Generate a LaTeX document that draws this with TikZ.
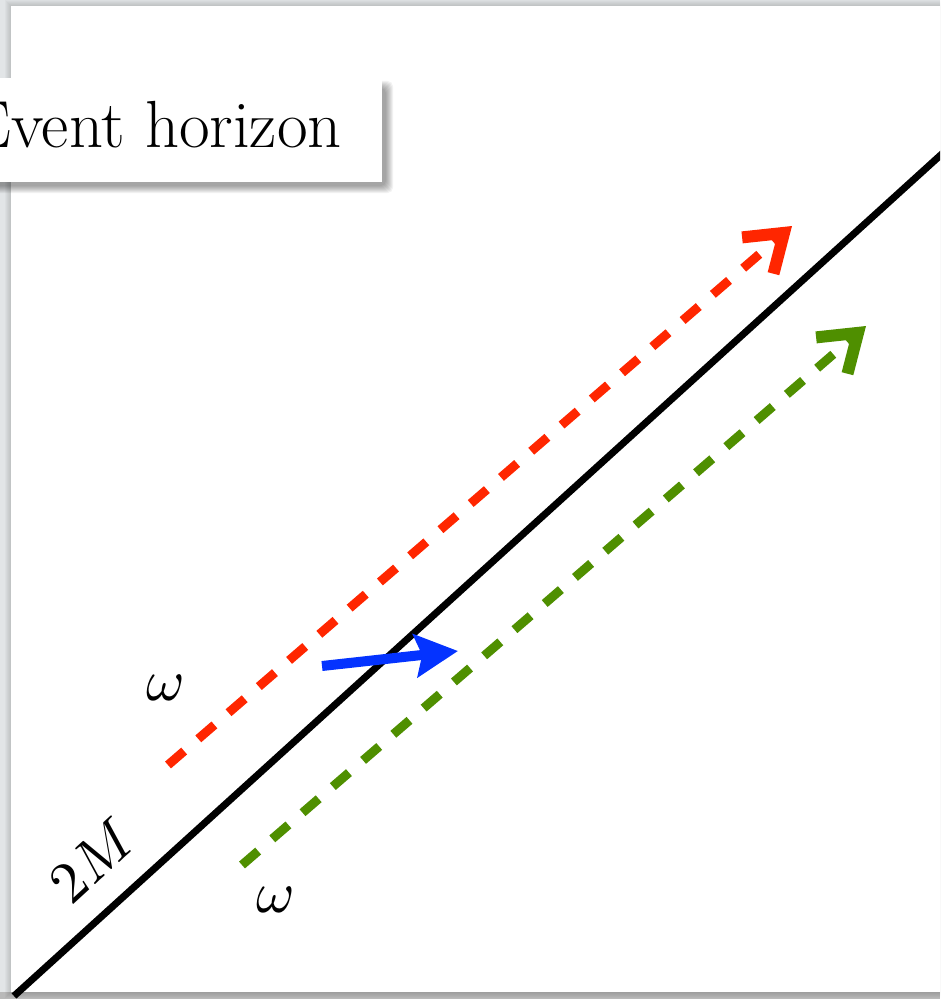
\documentclass[tikz,border=0pt]{standalone}
\usepackage{graphicx}
\usetikzlibrary{arrows.meta}
\definecolor{hred}{RGB}{255,38,0}
\definecolor{hgreen}{RGB}{79,143,0}
\definecolor{hblue}{RGB}{4,51,255}
\definecolor{bggray}{RGB}{226,229,231}
\tikzset{
  photon/.style={line width=6.75pt, dash pattern=on 16pt off 14pt,
    -{Straight Barb[length=26pt,width=36pt,line width=9pt]}},
  mathlbl/.style={inner sep=0pt},
}
\begin{document}
\begin{tikzpicture}[x=0.75pt,y=-0.75pt]
\useasboundingbox (0,0) rectangle (940,999);
\begin{scope}
\clip (0,0) rectangle (940,999);
% background and panel
\fill[bggray] (0,0) rectangle (940,999);
\fill[gray!55] (0,992) rectangle (940,999);
\foreach \i in {1,...,6} \fill[black, opacity=0.025] (11-\i,6-\i) rectangle (960,992+\i);
\fill[white] (11,6) rectangle (940,992);
% event horizon line
\coordinate (hA) at (14,996);
\coordinate (hB) at (944,152);
\draw[line width=5.25pt] (hA) -- (hB);
% photons
\coordinate (r0) at (168,765);
\coordinate (r1) at (792,226);
\coordinate (g0) at (242,865);
\coordinate (g1) at (866,326);
\draw[photon, hred] (r0) -- (r1);
\draw[photon, hgreen] (g0) -- (g1);
% blue arrow
\coordinate (b0) at (322,666);
\coordinate (b1) at (458,651);
\draw[hblue, line width=7.5pt, -{Stealth[length=32pt,width=32pt,inset=5pt]}] (b0) -- (b1);
% labels
\node[mathlbl] (w1) at (166,688) {\scalebox{4.4}{$\omega$}};
\node[mathlbl] (w2) at (276,900) {\scalebox{4.4}{$\omega$}};
\node[mathlbl, rotate=42.5] (m2) at (92,860) {\scalebox{4.4}{$2M$}};
% event horizon box
\foreach \i in {1,...,8} \fill[black, opacity=0.05, rounded corners=4pt] (-60+\i,80+\i) rectangle (382+12-\i,182+12-\i);
\fill[white] (-60,78) rectangle (382,182);
\node[font=\fontsize{50}{58}\selectfont, anchor=base east, inner sep=0pt] (eh) at (342,147) {Event horizon};
\end{scope}
\end{tikzpicture}
\end{document}
